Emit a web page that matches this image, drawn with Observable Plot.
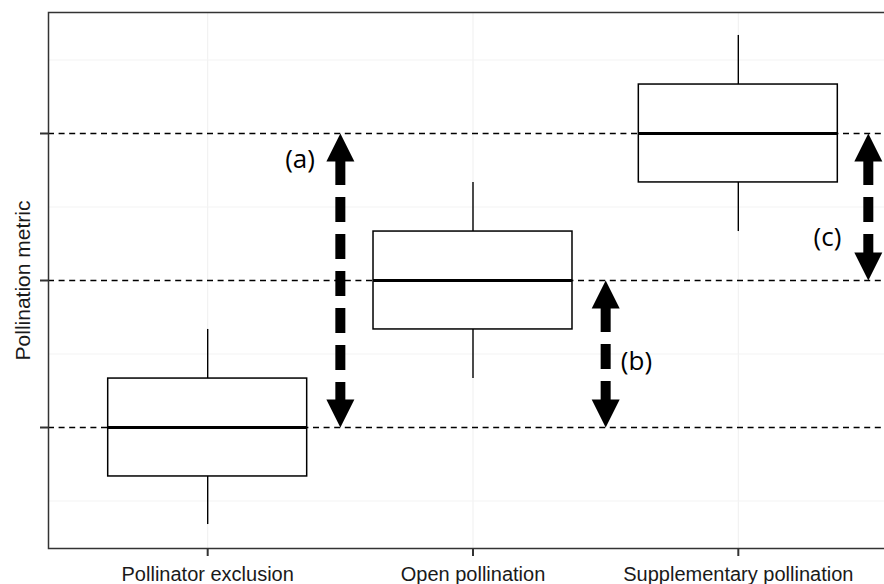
<!DOCTYPE html>
<html>
<head>
<meta charset="utf-8">
<script src="https://cdn.jsdelivr.net/npm/d3@7"></script>
<script src="https://cdn.jsdelivr.net/npm/@observablehq/plot@0.6"></script>
<style>
  html, body { margin: 0; padding: 0; background: white; overflow: hidden; }
  #chart svg { overflow: hidden; display: block; }
</style>
</head>
<body>
<div id="chart"></div>
<script>
// Treatment categories
const categories = ["Pollinator exclusion", "Open pollination", "Supplementary pollination"];
// Box-plot statistics
const whiskerLow  = [0.34, 1.333, 2.333];
const q1          = [0.667, 1.667, 2.667];
const medians     = [1, 2, 3];
const q3          = [1.333, 2.333, 3.333];
const whiskerHigh = [1.667, 2.667, 3.667];
// Reference (dashed) levels = y ticks
const refLevels = [1, 2, 3];
const minorLevels = [0.5, 1.5, 2.5, 3.5];
// Double-headed arrows
const arrowX = [1.5, 2.5, 3.49];
const arrowFrom = [1, 1, 2];
const arrowTo = [3, 2, 3];
const arrowLabels = ["(a)", "(b)", "(c)"];
const labelX = [1.348, 2.616, 3.336];
const labelY = [2.820, 1.449, 2.293];
const yTitle = "Pollination metric";

const boxIdx = d3.range(categories.length);
const arrIdx = d3.range(arrowLabels.length);
const halfBox = 0.375;

const headUp = {draw(ctx) { ctx.moveTo(0, 0); ctx.lineTo(14, 28); ctx.lineTo(-14, 28); ctx.closePath(); }};
const headDown = {draw(ctx) { ctx.moveTo(0, 0); ctx.lineTo(14, -28); ctx.lineTo(-14, -28); ctx.closePath(); }};

const chart = Plot.plot({
  width: 884,
  height: 584,
  marginLeft: 48,
  marginTop: 12,
  marginBottom: 36,
  marginRight: -13,
  style: {background: "white", fontFamily: "Liberation Sans, Arial, sans-serif", color: "#1a1a1a"},
  x: {type: "linear", domain: [0.4, 3.6]},
  y: {type: "linear", domain: [0.177, 3.823]},
  marks: [
    Plot.gridX([1, 2, 3], {stroke: "#efefef", strokeOpacity: 1, strokeWidth: 1}),
    Plot.gridY(minorLevels, {stroke: "#f3f3f3", strokeOpacity: 1, strokeWidth: 1}),
    Plot.ruleY(refLevels, {stroke: "black", strokeWidth: 1.3, strokeDasharray: "6,4.6"}),
    // whiskers
    Plot.ruleX(boxIdx, {x: i => i + 1, y1: i => q3[i], y2: i => whiskerHigh[i], stroke: "black", strokeWidth: 1.4}),
    Plot.ruleX(boxIdx, {x: i => i + 1, y1: i => whiskerLow[i], y2: i => q1[i], stroke: "black", strokeWidth: 1.4}),
    // boxes
    Plot.rect(boxIdx, {x1: i => i + 1 - halfBox, x2: i => i + 1 + halfBox, y1: i => q1[i], y2: i => q3[i], fill: "white", stroke: "black", strokeWidth: 1.5}),
    // medians
    Plot.ruleY(boxIdx, {y: i => medians[i], x1: i => i + 1 - halfBox, x2: i => i + 1 + halfBox, stroke: "black", strokeWidth: 3}),
    // arrows
    Plot.ruleX(arrIdx, {x: i => arrowX[i], y1: i => arrowTo[i], y2: i => arrowFrom[i], stroke: "black", strokeWidth: 10, strokeDasharray: "25,12", insetTop: 27, insetBottom: 27}),
    Plot.dot(arrIdx, {x: i => arrowX[i], y: i => arrowTo[i], symbol: headUp, fill: "black", stroke: "none"}),
    Plot.dot(arrIdx, {x: i => arrowX[i], y: i => arrowFrom[i], symbol: headDown, fill: "black", stroke: "none"}),
    Plot.text(arrIdx, {x: i => labelX[i], y: i => labelY[i], text: i => arrowLabels[i], fontSize: 26, fontFamily: "Open Sans", fill: "black"}),
    // frame & axes
    Plot.frame({stroke: "#333", strokeWidth: 1.5}),
    Plot.axisY({ticks: refLevels, tickSize: 8, tickFormat: () => "", stroke: "#333", strokeWidth: 2, label: null}),
    Plot.axisX({ticks: [1, 2, 3], tickSize: 8, tickPadding: 10, tickFormat: d => categories[d - 1], fontSize: 20, stroke: "#333", strokeWidth: 2, fill: "#1a1a1a", label: null}),
    Plot.text([yTitle], {frameAnchor: "left", dx: -25, rotate: -90, textAnchor: "middle", fontSize: 21, fill: "#1a1a1a"})
  ]
});
document.getElementById("chart").appendChild(chart);
</script>
</body>
</html>
